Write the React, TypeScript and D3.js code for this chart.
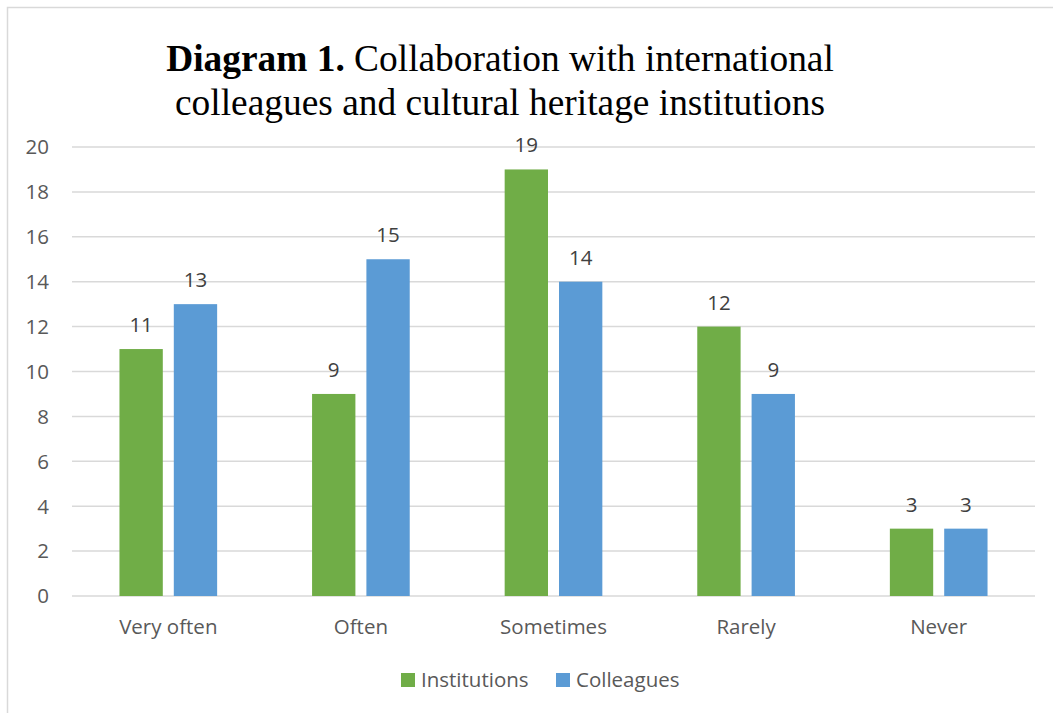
import React from "react";
import * as d3 from "d3";

const categories = ["Very often", "Often", "Sometimes", "Rarely", "Never"];
const seriesNames = ["Institutions", "Colleagues"];
const institutions = [11, 9, 19, 12, 3];
const colleagues = [13, 15, 14, 9, 3];
const yTicks = [0, 2, 4, 6, 8, 10, 12, 14, 16, 18, 20];
const colors = ["#70AD47", "#5B9BD5"];

const W = 1053;
const H = 713;
const left = 72;
const right = 1035;
const top = 147;
const bottom = 596;
const labelFont = "'Open Sans', sans-serif";
const fs = 20.5;
const textColor = "#595959";

export default function App() {
  const x = d3.scaleBand<string>().domain(categories).range([left, right]).paddingInner(0).paddingOuter(0);
  const y = d3.scaleLinear().domain([0, 20]).range([bottom, top]);
  const bw = x.bandwidth();
  const barW = bw * 0.225;
  const gap = 11;
  const series = [institutions, colleagues];

  return (
    <svg width={W} height={H} style={{ position: "absolute", left: 0, top: 0, background: "#fff" }}>
      <rect x={7.5} y={7.5} width={1060} height={720} fill="#fff" stroke="#d9d9d9" strokeWidth={1.5} />
      <text x={500} y={71} textAnchor="middle" fontFamily="'Liberation Serif', 'Times New Roman', serif" fontSize={37.4} fill="#000">
        <tspan fontWeight="bold">Diagram 1.</tspan>
        <tspan> Collaboration with international</tspan>
      </text>
      <text x={500} y={115} textAnchor="middle" fontFamily="'Liberation Serif', 'Times New Roman', serif" fontSize={37.4} fill="#000">
        colleagues and cultural heritage institutions
      </text>
      {yTicks.map((t) => (
        <g key={t}>
          <line x1={left} x2={right} y1={y(t)} y2={y(t)} stroke="#d9d9d9" strokeWidth={1.5} />
          <text x={49} y={y(t)} dy="0.36em" textAnchor="end" fontFamily={labelFont} fontSize={fs} fill={textColor}>
            {t}
          </text>
        </g>
      ))}
      {categories.map((c, i) => {
        const cx = (x(c) as number) + bw / 2;
        return (
          <g key={c}>
            {series.map((s, k) => {
              const bx = k === 0 ? cx - gap / 2 - barW : cx + gap / 2;
              return (
                <g key={k}>
                  <rect x={bx} y={y(s[i])} width={barW} height={y(0) - y(s[i])} fill={colors[k]} />
                  <text x={bx + barW / 2} y={y(s[i]) - 17} textAnchor="middle" fontFamily={labelFont} fontSize={fs} fill="#404040">
                    {s[i]}
                  </text>
                </g>
              );
            })}
            <text x={cx} y={634} textAnchor="middle" fontFamily={labelFont} fontSize={fs} fill={textColor}>
              {c}
            </text>
          </g>
        );
      })}
      {seriesNames.map((n, k) => {
        const lx = k === 0 ? 401 : 556;
        return (
          <g key={n}>
            <rect x={lx} y={673} width={14} height={14} fill={colors[k]} />
            <text x={lx + 20} y={687} fontFamily={labelFont} fontSize={fs} fill={textColor}>
              {n}
            </text>
          </g>
        );
      })}
    </svg>
  );
}
